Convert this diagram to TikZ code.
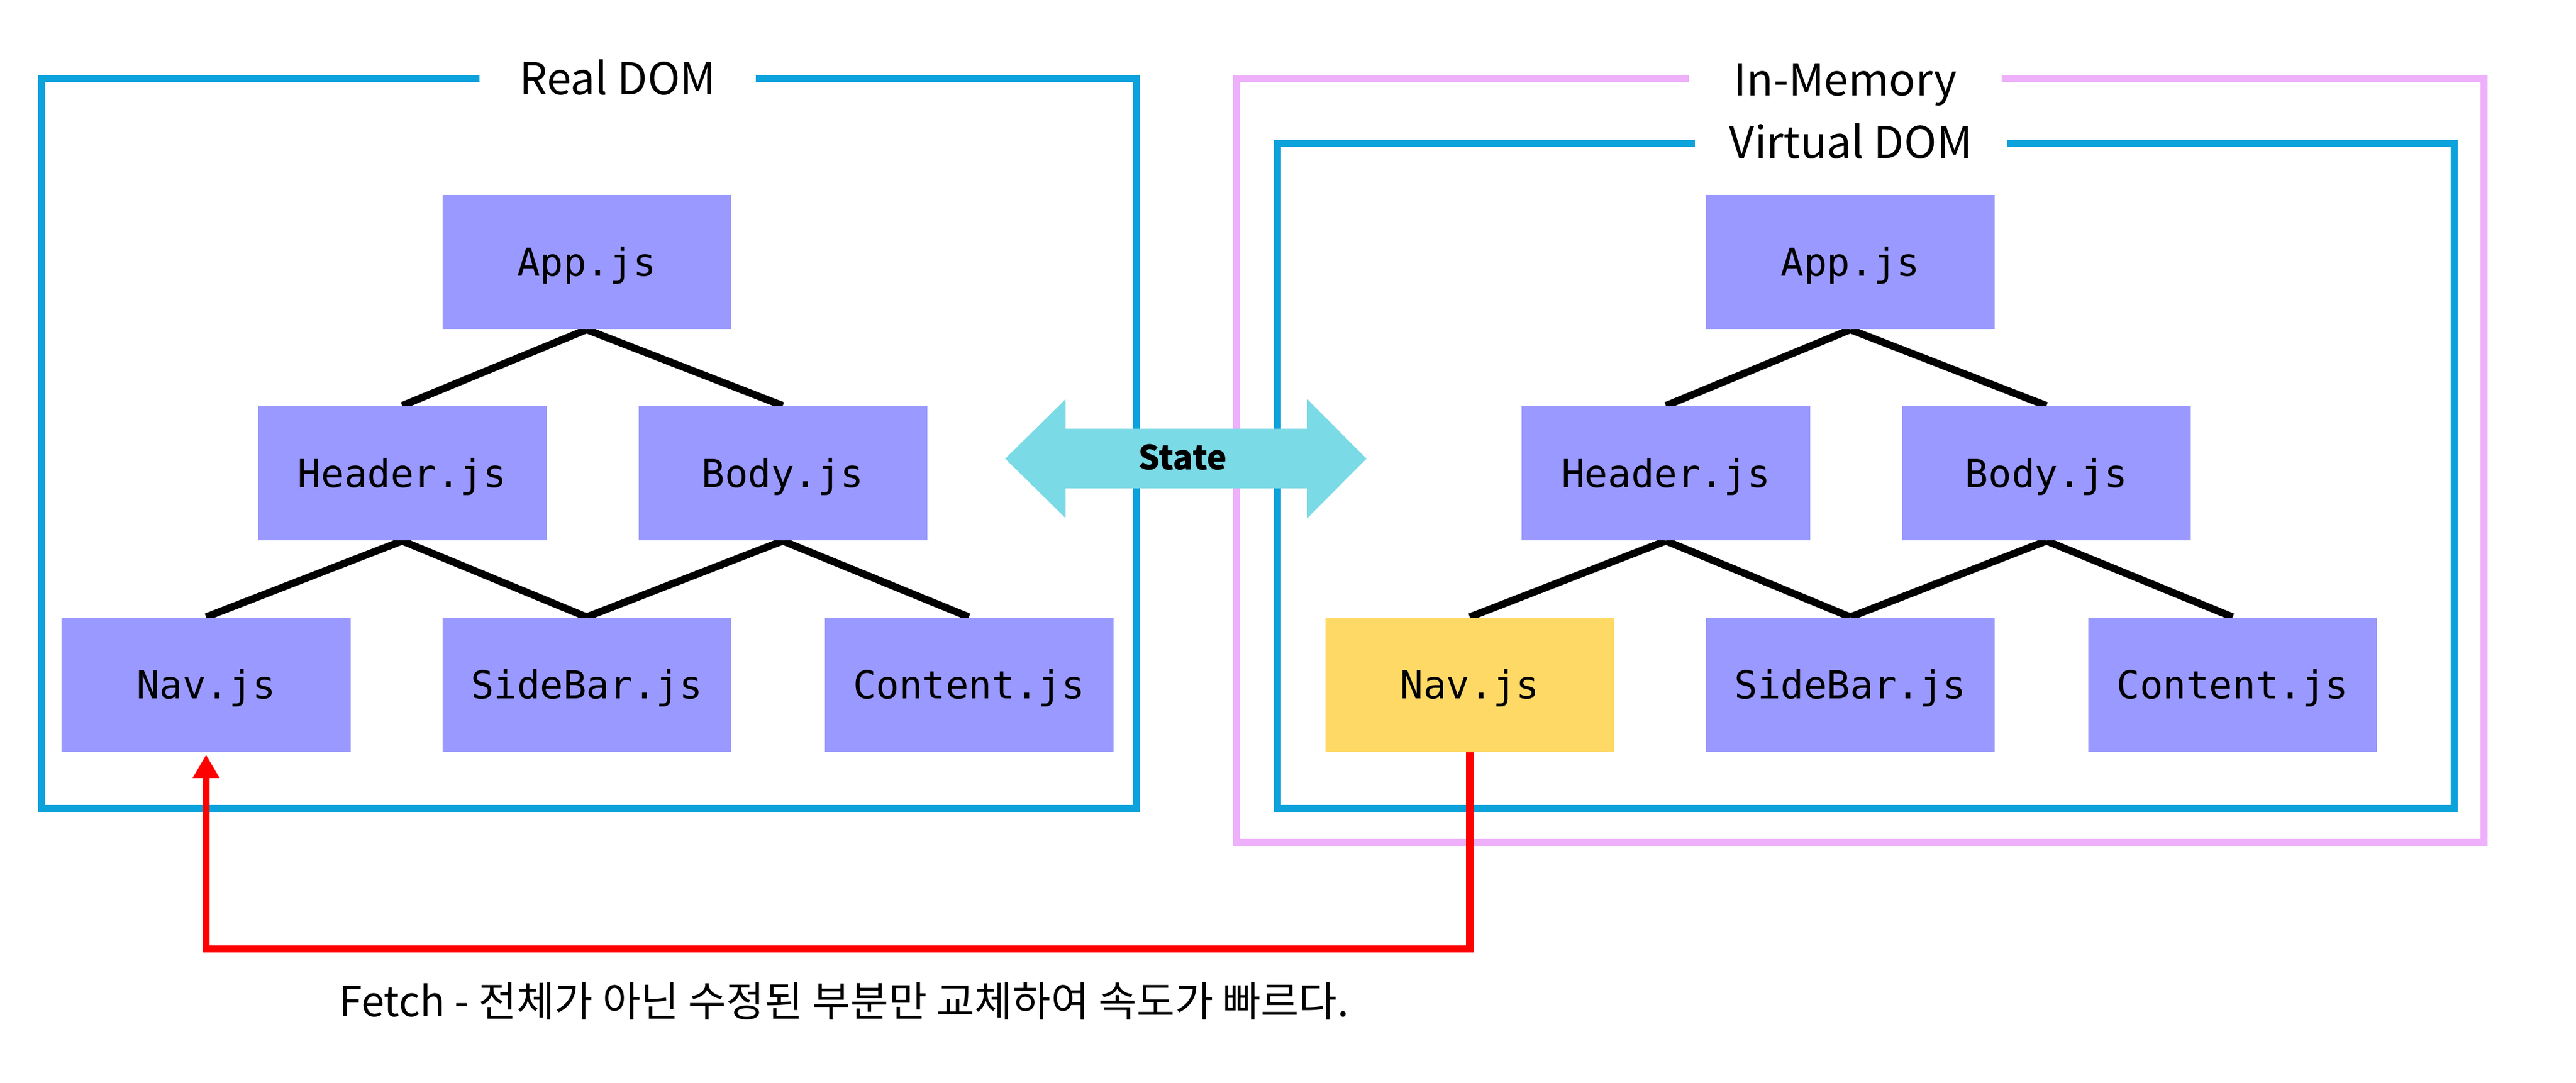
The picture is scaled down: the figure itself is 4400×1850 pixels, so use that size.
\documentclass[tikz,border=0pt]{standalone}
\usepackage{fontspec}
\setmainfont{Noto Sans CJK KR}
\newfontfamily\codefont{DejaVu Sans Mono}
\usetikzlibrary{arrows.meta}
\pgfdeclarelayer{bgzero}
\pgfdeclarelayer{background}
\pgfsetlayers{bgzero,background,main}
\definecolor{nodefill}{HTML}{9999FF}
\definecolor{navfill}{HTML}{FFD966}
\definecolor{frameblue}{HTML}{0CA2DC}
\definecolor{framepink}{HTML}{EEB0FA}
\definecolor{statecyan}{HTML}{7ADAE6}
\definecolor{fetchred}{HTML}{FF0000}
\begin{document}
\begin{tikzpicture}[x=0.2pt,y=-0.2pt,
  comp/.style={rectangle, fill=nodefill, minimum width=98.6pt, minimum height=45.8pt,
    inner sep=0pt, font=\codefont\fontsize{13.15}{15}\selectfont, text height=9.6pt, text depth=0pt},
  frame/.style={line width=2.4pt, line join=miter},
  titlelbl/.style={fill=white, inner sep=0pt, anchor=base, font=\fontsize{15}{18}\selectfont},
  conn/.style={line width=2.5pt, black},
  fetch/.style={line width=2.5pt, fetchred, line join=miter, -{Triangle[length=8pt,width=8.6pt]}, shorten >=0.8pt}]
\useasboundingbox (0,0) rectangle (4400,1850);
\begin{pgfonlayer}{bgzero}
\fill[white] (0,0) rectangle (4400,1850);
\end{pgfonlayer}

% frames
\draw[frame, frameblue] (71,134) rectangle (1941,1381);
\draw[frame, framepink] (2112,134) rectangle (4243,1439);
\draw[frame, frameblue] (2182,245) rectangle (4192,1381);

% state double arrow
\fill[statecyan] (1717,783.5) -- (1820,682) -- (1820,732.5) -- (2233,732.5) -- (2233,682)
  -- (2334,783.5) -- (2233,885) -- (2233,834.5) -- (1820,834.5) -- (1820,885) -- cycle;
\node[inner sep=0pt, font=\bfseries\fontsize{11.5}{14}\selectfont, text height=7.6pt, text depth=0pt]
  (state) at (2020,783.5) {State};

% titles
\node[titlelbl, minimum width=94.4pt] (realt) at (1055,162) {Real DOM};
\node[titlelbl, minimum width=106.8pt] (memt) at (3152,164) {In-Memory};
\node[titlelbl, minimum width=106.6pt] (virtt) at (3161.5,271) {Virtual DOM};

% left tree
\node[comp] (lapp) at (1002,447.5) {App.js};
\node[comp] (lhead) at (687,808.5) {Header.js};
\node[comp] (lbody) at (1337,808.5) {Body.js};
\node[comp] (lnav) at (352,1169.5) {Nav.js};
\node[comp] (lside) at (1002,1169.5) {SideBar.js};
\node[comp] (lcont) at (1655,1169.5) {Content.js};

% right tree
\node[comp] (rapp) at (3160.5,447.5) {App.js};
\node[comp] (rhead) at (2845.5,808.5) {Header.js};
\node[comp] (rbody) at (3495.5,808.5) {Body.js};
\node[comp, fill=navfill] (rnav) at (2510.5,1169.5) {Nav.js};
\node[comp] (rside) at (3160.5,1169.5) {SideBar.js};
\node[comp] (rcont) at (3813.5,1169.5) {Content.js};

% connectors (behind the boxes)
\begin{pgfonlayer}{background}
\foreach \p in {l,r}{
  \draw[conn] (\p app.south) -- (\p head.north);
  \draw[conn] (\p app.south) -- (\p body.north);
  \draw[conn] (\p head.south) -- (\p nav.north);
  \draw[conn] (\p head.south) -- (\p side.north);
  \draw[conn] (\p body.south) -- (\p side.north);
  \draw[conn] (\p body.south) -- (\p cont.north);
}
\end{pgfonlayer}

% fetch arrow
\coordinate (fetchy) at (0,1621);
\draw[fetch] (rnav.south) -- (rnav.south |- fetchy) -- (lnav.south |- fetchy) -- (lnav.south);

\node[anchor=base west, inner sep=0pt, font=\fontsize{14.2}{17}\selectfont] (caption) at (578,1736)
  {Fetch - 전체가 아닌 수정된 부분만 교체하여 속도가 빠르다.};
\end{tikzpicture}
\end{document}
